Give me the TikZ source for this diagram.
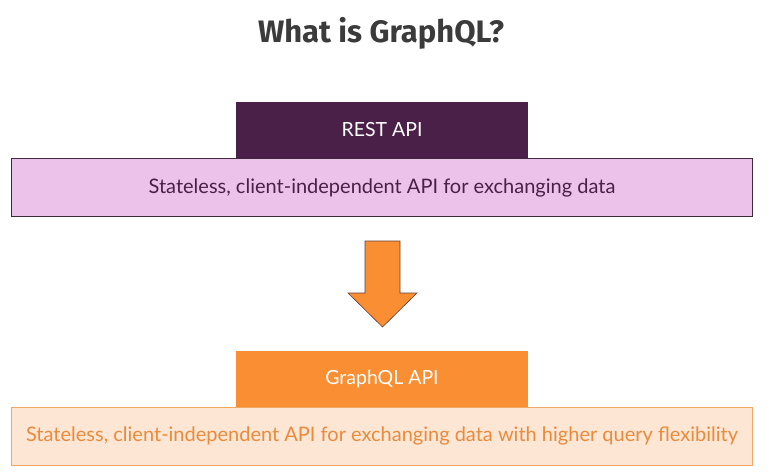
\documentclass[tikz,border=0pt]{standalone}
\usepackage{fontspec}
\setmainfont{Lato}
\newfontfamily\titlefont{Fira Sans}
\usetikzlibrary{positioning}
\definecolor{restpurple}{HTML}{4A1F48}
\definecolor{restlight}{HTML}{ECC1EA}
\definecolor{restline}{HTML}{3D2A3D}
\definecolor{gqlorange}{HTML}{FA8E33}
\definecolor{gqllight}{HTML}{FDE6D4}
\definecolor{gqlline}{HTML}{F2A664}
\definecolor{gqltext}{HTML}{E98B3C}
\definecolor{titlegray}{HTML}{3B3B3B}

\begin{document}
\begin{tikzpicture}[x=1pt,y=-1pt,
  tab/.style={rectangle,minimum width=292,minimum height=56,inner sep=0pt,text=white,font=\fontsize{19.5}{23}\selectfont},
  band/.style={rectangle,draw,line width=0.8pt,minimum width=741,minimum height=58,inner sep=0pt,font=\fontsize{20}{24}\selectfont}]
\useasboundingbox (0,0) rectangle (784,471);

% Title
\node[text=titlegray,font=\titlefont\bfseries\fontsize{31}{36}\selectfont] (title) at (381,33) {What is GraphQL?};

% REST block
\node[tab,fill=restpurple] (rest) at (382,130) {REST API};
\node[band,fill=restlight,draw=restline,text=restpurple,below=0pt of rest] (restdesc) {Stateless, client-independent API for exchanging data};

% Arrow
\draw[fill=gqlorange,draw=restline!80!gqlorange,line width=0.6pt]
  (365,241) -- (400,241) -- (400,293) -- (417,293) -- (382.5,327)
  -- (348,293) -- (365,293) -- cycle;

% GraphQL block
\node[tab,fill=gqlorange] (gql) at (382,378.5) {GraphQL API};
\node[band,fill=gqllight,draw=gqlline,text=gqltext,below=0pt of gql] (gqldesc) {Stateless, client-independent API for exchanging data with higher query flexibility};
\end{tikzpicture}
\end{document}
